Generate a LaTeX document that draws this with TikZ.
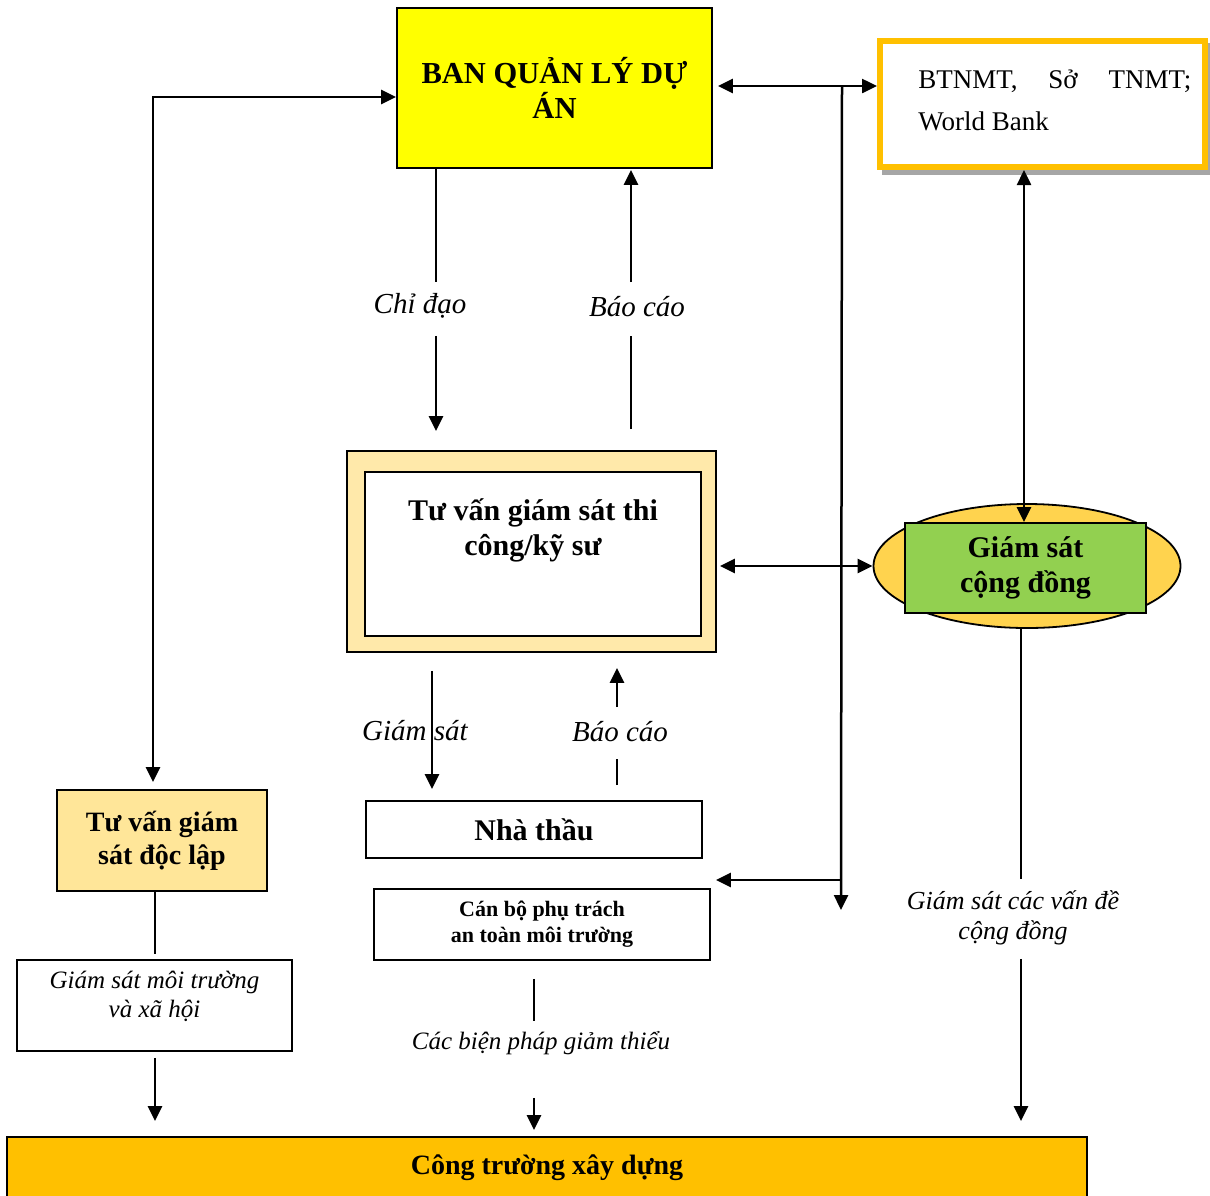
\documentclass[tikz,border=0pt]{standalone}
\usepackage{fontspec}
\setmainfont{Liberation Serif}
\usetikzlibrary{arrows.meta,shapes.geometric,calc}
\definecolor{yellowc}{HTML}{FFFF00}
\definecolor{orangec}{HTML}{FFC000}
\definecolor{lightc}{HTML}{FFE9AA}
\definecolor{dlc}{HTML}{FFE699}
\definecolor{ellc}{HTML}{FFD34E}
\definecolor{greenc}{HTML}{92D050}
\definecolor{shadowc}{HTML}{A6A6A6}
\begin{document}
\begin{tikzpicture}[x=1pt,y=-1pt,line width=2.5pt,
  >={Triangle[length=15pt,width=14pt]},
  box/.style={draw=black,line width=1.8pt,inner sep=0pt,align=center},
  bigb/.style={font=\fontsize{30}{35}\selectfont\bfseries},
  lbl/.style={font=\fontsize{29}{33}\selectfont\itshape,inner sep=0pt},
  slbl/.style={font=\fontsize{25}{29}\selectfont\itshape,inner sep=0pt,align=center}]
\useasboundingbox (0,0) rectangle (1210,1195);

% nodes
\node[box,fill=yellowc,minimum width=315,minimum height=160,font=\fontsize{30.5}{35}\selectfont\bfseries] (bql) at (554.5,88) {BAN QUẢN LÝ DỰ\\ÁN};
\fill[shadowc] (882,43) rectangle (1212,175);
\node[draw=orangec,line width=6pt,fill=white,minimum width=325,minimum height=126,inner sep=0pt] (btn) at (1042.5,104) {};
\node[anchor=base west,inner sep=0pt,font=\fontsize{27}{32}\selectfont] (btn1) at (917,88) {\makebox[273pt][s]{BTNMT, Sở TNMT;}};
\node[anchor=base west,inner sep=0pt,font=\fontsize{27}{32}\selectfont] (btn2) at (917,130) {World Bank};

\node[box,fill=lightc,minimum width=369,minimum height=201] (tvo) at (531.5,551.5) {};
\node[box,fill=white,minimum width=336,minimum height=164] (tvi) at (533,554) {};
\node[bigb,align=center,inner sep=0pt] (tvt) at (533,530) {Tư vấn giám sát thi\\công/kỹ sư};

\node[ellipse,draw=black,line width=1.8pt,fill=ellc,minimum width=307,minimum height=124,inner sep=0pt] (gsell) at (1027,566) {};
\node[box,fill=greenc,minimum width=241,minimum height=90,bigb] (gscd) at (1025.5,568) {Giám sát\\cộng đồng};

\node[box,fill=white,minimum width=336,minimum height=57,bigb] (nt) at (534,829.5) {Nhà thầu};
\node[box,fill=white,minimum width=336,minimum height=71,font=\fontsize{22}{26}\selectfont\bfseries] (cb) at (542,924.5) {Cán bộ phụ trách\\an toàn môi trường};

\node[box,fill=dlc,minimum width=210,minimum height=101,font=\fontsize{28}{33}\selectfont\bfseries] (tvdl) at (162,840.5) {Tư vấn giám\\sát độc lập};
\node[box,fill=white,minimum width=275,minimum height=91] (gsmt) at (154.5,1005.5) {};
\node[slbl] (gsmtt) at (154.5,996) {Giám sát môi trường\\và xã hội};

\node[box,fill=orangec,minimum width=1080,minimum height=62,font=\fontsize{28}{30}\selectfont\bfseries] (ctxd) at (547,1168) {Công trường xây dựng};

% labels
\node[lbl] (l1) at (420,306) {Chỉ đạo};
\node[lbl] (l2) at (637,307) {Báo cáo};
\node[lbl] (l3) at (415,731) {Giám sát};
\node[lbl] (l4) at (620,732) {Báo cáo};
\node[slbl,font=\fontsize{26}{30}\selectfont\itshape] (l5) at (1013,918) {Giám sát các vấn đề\\cộng đồng};
\node[slbl] (l6) at (541,1043) {Các biện pháp giảm thiểu};

% coordinates
\coordinate (xcd) at (436,0);
\coordinate (xbc) at (631,0);
\coordinate (xgs) at (432,0);
\coordinate (xbc2) at (617,0);
\coordinate (xcv) at (1021,0);
\coordinate (xbp) at (534,0);
\coordinate (xl) at (155,0);
\coordinate (xg) at (1024,0);
\coordinate (lc) at (153,97);
\coordinate (j1) at (842,86);
\coordinate (j2) at (841,910);
\coordinate (j3) at (841,880);

% connectors
\draw[shorten >=168pt] (bql.south -| xcd) -- (tvo.north -| xcd);
\draw[->,shorten <=167pt,shorten >=19pt] (bql.south -| xcd) -- (tvo.north -| xcd);
\draw[shorten <=21pt,shorten >=167pt] (tvo.north -| xbc) -- (bql.south -| xbc);
\draw[->,shorten <=168pt,shorten >=1pt] (tvo.north -| xbc) -- (bql.south -| xbc);

\draw[->,shorten <=18pt,shorten >=11pt] (tvo.south -| xgs) -- (nt.north -| xgs);
\draw[shorten <=15pt,shorten >=106pt] (nt.north -| xbc2) -- (tvo.south -| xbc2);
\draw[->,shorten <=93pt,shorten >=15pt] (nt.north -| xbc2) -- (tvo.south -| xbc2);

\draw[shorten >=257pt] (gsell.south -| xcv) -- (ctxd.north -| xcv);
\draw[->,shorten <=330pt,shorten >=15pt] (gsell.south -| xcv) -- (ctxd.north -| xcv);

\draw[shorten <=18pt,shorten >=115pt] (cb.south -| xbp) -- (ctxd.north -| xbp);
\draw[->,shorten <=137pt,shorten >=6pt] (cb.south -| xbp) -- (ctxd.north -| xbp);

\draw[shorten >=5pt] (tvdl.south -| xl) -- (gsmt.north -| xl);
\draw[->,shorten <=6pt,shorten >=15pt] (gsmt.south -| xl) -- (ctxd.north -| xl);

\draw[<->,shorten >=7pt] (bql.west |- lc) -- (lc) -- (lc |- tvdl.north);
\draw[<->] (btn.south -| xg) -- (gscd.north -| xg);
\draw[<->,shorten <=3pt] (tvo.east |- gsell.west) -- (gsell.west);
\draw[<->,shorten <=5pt] (bql.east |- j1) -- (btn.west |- j1);
\draw[->] (j1) -- (j2);
\draw[->,shorten >=5pt] (j3) -- (cb.east |- j3);
\end{tikzpicture}
\end{document}
